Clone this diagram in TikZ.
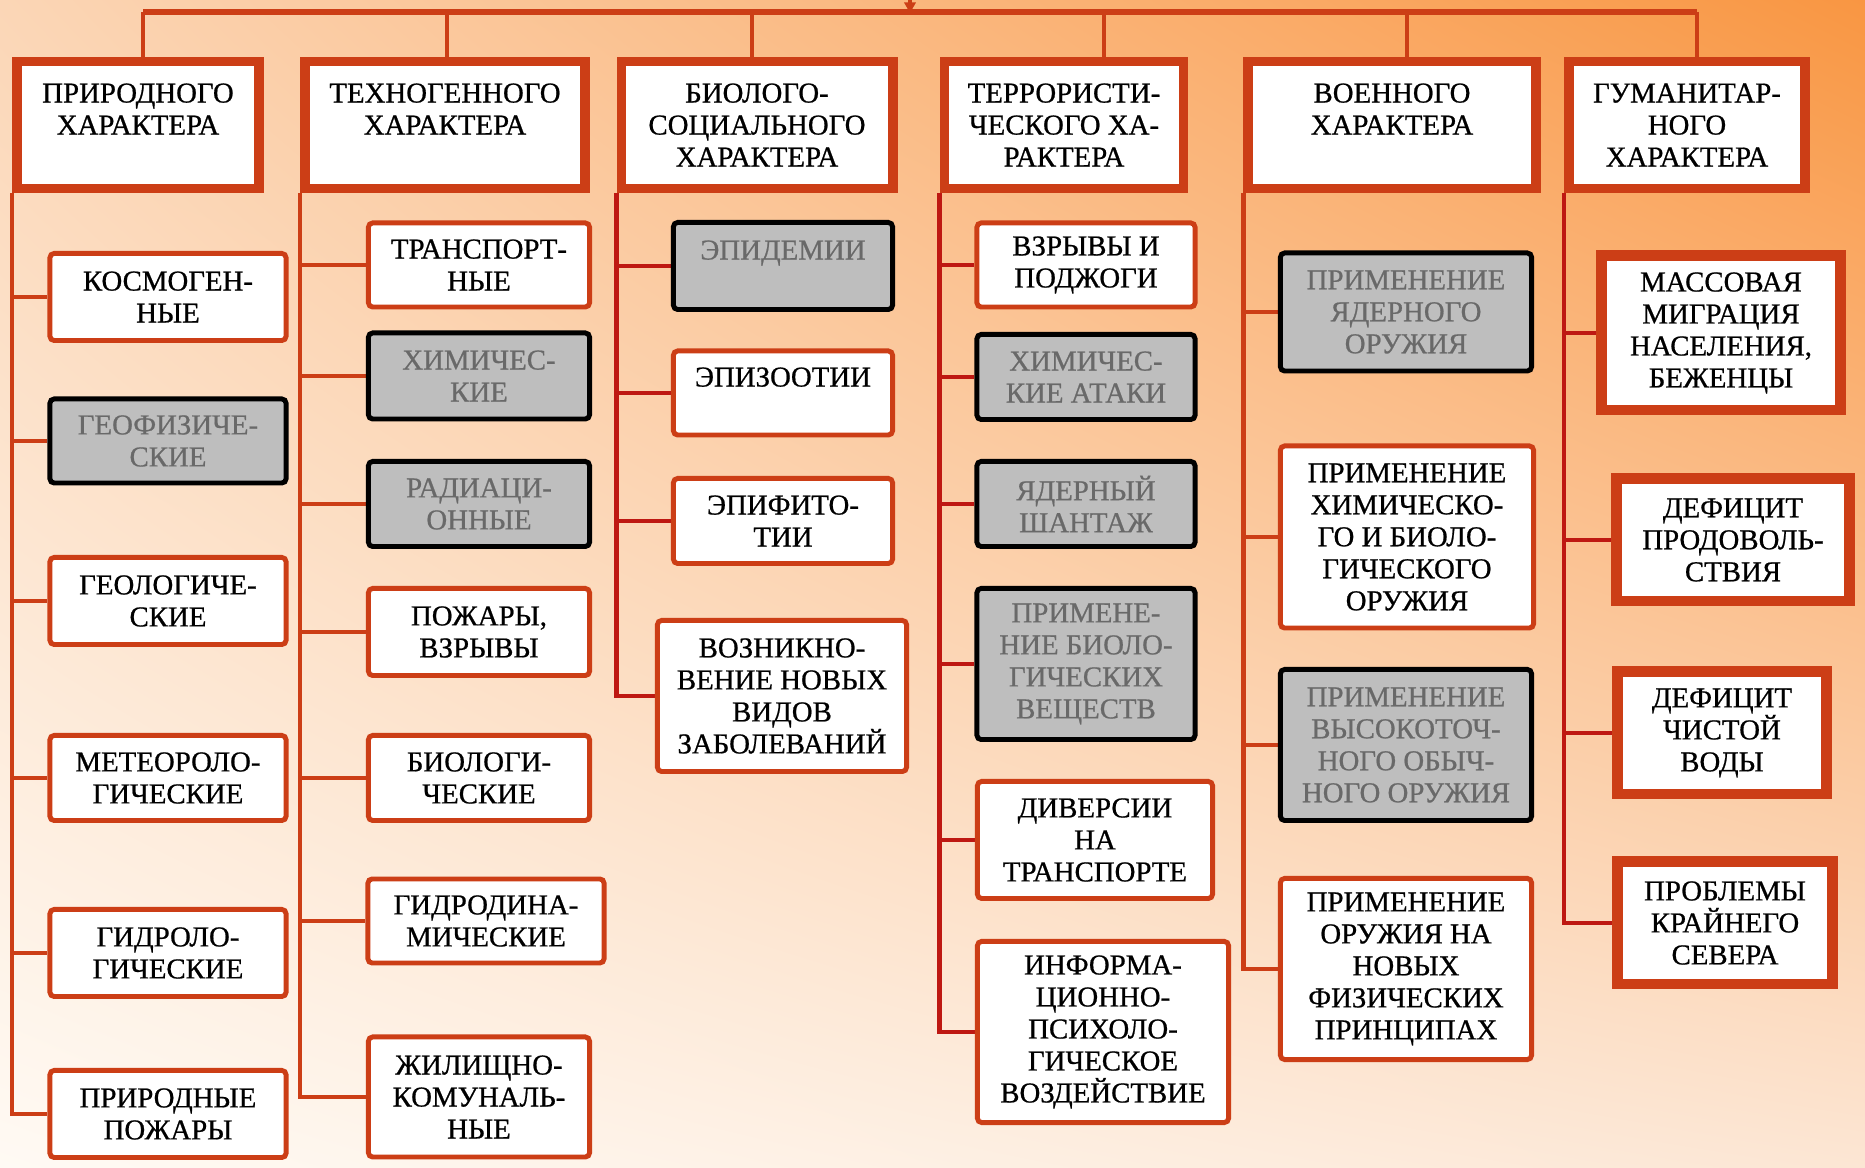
\documentclass[tikz,border=0pt]{standalone}
\usepackage{fontspec}
\setmainfont{Liberation Serif}[FakeBold=0.7]
\usetikzlibrary{arrows.meta,backgrounds,shadings}
\definecolor{brick}{RGB}{204,62,22}
\definecolor{crim}{RGB}{190,24,18}
\definecolor{boxgray}{RGB}{190,190,190}
\definecolor{txtgray}{RGB}{105,105,105}
\definecolor{bgul}{RGB}{251,214,182}
\definecolor{bgur}{RGB}{249,150,66}
\definecolor{bgll}{RGB}{255,250,244}
\definecolor{bglr}{RGB}{252,230,212}
\tikzset{
  sz/.style 2 args={minimum width=#1cm, minimum height=#2cm},
  headbox/.style={draw=brick, line width=2.8pt, fill=white, align=center, inner sep=0pt,
    append after command={\pgfextra{\draw[white!80!brick, line width=0.4pt]
      ([shift={(0.75pt,-0.75pt)}]\tikzlastnode.north west) rectangle
      ([shift={(-0.75pt,0.75pt)}]\tikzlastnode.south east);}}},
  leaf/.style={draw=brick, line width=1.4pt, rounded corners=1.2pt, fill=white,
    align=center, inner sep=0pt},
  grayleaf/.style={leaf, draw=black, fill=boxgray, text=txtgray},
  needbox/.style={headbox, line width=3.1pt},
  wire/.style={draw=brick, line width=1.4pt},
  wirec/.style={wire, draw=crim}
}
\begin{document}
\begin{tikzpicture}[x=0.01cm, y=-0.01cm, font=\fontsize{8.2}{9.1}\selectfont]
  \useasboundingbox (0,0) rectangle (1865,1168);

  % headers
  \node[headbox, sz={2.42}{1.27}] (h1) at (138,125) {ПРИРОДНОГО\\ХАРАКТЕРА\\~};
  \node[headbox, sz={2.80}{1.27}] (h2) at (445,125) {ТЕХНОГЕННОГО\\ХАРАКТЕРА\\~};
  \node[headbox, sz={2.71}{1.27}] (h3) at (757,125) {БИОЛОГО-\\СОЦИАЛЬНОГО\\ХАРАКТЕРА};
  \node[headbox, sz={2.39}{1.27}] (h4) at (1064,125) {ТЕРРОРИСТИ-\\ЧЕСКОГО ХА-\\РАКТЕРА};
  \node[headbox, sz={2.87}{1.27}] (h5) at (1392,125) {ВОЕННОГО\\ХАРАКТЕРА\\~};
  \node[headbox, sz={2.36}{1.27}] (h6) at (1687,125) {ГУМАНИТАР-\\НОГО\\ХАРАКТЕРА};

  % natural
  \node[leaf, sz={2.36}{0.87}] (c11) at (168,297) {КОСМОГЕН-\\НЫЕ};
  \node[grayleaf, sz={2.36}{0.84}] (c12) at (168,441) {ГЕОФИЗИЧЕ-\\СКИЕ};
  \node[leaf, sz={2.36}{0.87}] (c13) at (168,601) {ГЕОЛОГИЧЕ-\\СКИЕ};
  \node[leaf, sz={2.36}{0.85}] (c14) at (168,778) {МЕТЕОРОЛО-\\ГИЧЕСКИЕ};
  \node[leaf, sz={2.36}{0.87}] (c15) at (168,953) {ГИДРОЛО-\\ГИЧЕСКИЕ};
  \node[leaf, sz={2.36}{0.87}] (c16) at (168,1114) {ПРИРОДНЫЕ\\ПОЖАРЫ};

  % technogenic
  \node[leaf, sz={2.21}{0.84}] (c21) at (479,265) {ТРАНСПОРТ-\\НЫЕ};
  \node[grayleaf, sz={2.21}{0.86}] (c22) at (479,376) {ХИМИЧЕС-\\КИЕ};
  \node[grayleaf, sz={2.21}{0.85}] (c23) at (479,504) {РАДИАЦИ-\\ОННЫЕ};
  \node[leaf, sz={2.21}{0.87}] (c24) at (479,632) {ПОЖАРЫ,\\ВЗРЫВЫ};
  \node[leaf, sz={2.21}{0.85}] (c25) at (479,778) {БИОЛОГИ-\\ЧЕСКИЕ};
  \node[leaf, sz={2.36}{0.84}] (c26) at (486,921) {ГИДРОДИНА-\\МИЧЕСКИЕ};
  \node[leaf, sz={2.21}{1.20}] (c27) at (479,1097) {ЖИЛИЩНО-\\КОМУНАЛЬ-\\НЫЕ};

  % bio-social
  \node[grayleaf, sz={2.19}{0.87}] (c31) at (783,266) {ЭПИДЕМИИ\\~};
  \node[leaf, sz={2.19}{0.84}] (c32) at (783,393) {ЭПИЗООТИИ\\~};
  \node[leaf, sz={2.19}{0.85}] (c33) at (783,521) {ЭПИФИТО-\\ТИИ};
  \node[leaf, sz={2.49}{1.51}] (c34) at (782,696) {ВОЗНИКНО-\\ВЕНИЕ НОВЫХ\\ВИДОВ\\ЗАБОЛЕВАНИЙ};

  % terrorist
  \node[leaf, sz={2.18}{0.84}] (c41) at (1086,265) {ВЗРЫВЫ И\\ПОДЖОГИ};
  \node[grayleaf, sz={2.18}{0.85}] (c42) at (1086,377) {ХИМИЧЕС-\\КИЕ АТАКИ};
  \node[grayleaf, sz={2.18}{0.85}] (c43) at (1086,504) {ЯДЕРНЫЙ\\ШАНТАЖ};
  \node[grayleaf, sz={2.18}{1.51}] (c44) at (1086,664) {ПРИМЕНЕ-\\НИЕ БИОЛО-\\ГИЧЕСКИХ\\ВЕЩЕСТВ};
  \node[leaf, sz={2.35}{1.17}] (c45) at (1095,840) {ДИВЕРСИИ\\НА\\ТРАНСПОРТЕ};
  \node[leaf, sz={2.51}{1.81}] (c46) at (1103,1032) {ИНФОРМА-\\ЦИОННО-\\ПСИХОЛО-\\ГИЧЕСКОЕ\\ВОЗДЕЙСТВИЕ};

  % military
  \node[grayleaf, sz={2.51}{1.18}] (c51) at (1406,312) {ПРИМЕНЕНИЕ\\ЯДЕРНОГО\\ОРУЖИЯ};
  \node[leaf, sz={2.53}{1.82}] (c52) at (1407,537) {ПРИМЕНЕНИЕ\\ХИМИЧЕСКО-\\ГО И БИОЛО-\\ГИЧЕСКОГО\\ОРУЖИЯ};
  \node[grayleaf, sz={2.51}{1.51}] (c53) at (1406,745) {ПРИМЕНЕНИЕ\\ВЫСОКОТОЧ-\\НОГО ОБЫЧ-\\НОГО ОРУЖИЯ};
  \node[leaf, sz={2.51}{1.81}] (c54) at (1406,969) {ПРИМЕНЕНИЕ\\ОРУЖИЯ НА\\НОВЫХ\\ФИЗИЧЕСКИХ\\ПРИНЦИПАХ};

  % humanitarian
  \node[needbox, sz={2.38}{1.54}] (c61) at (1721,333) {МАССОВАЯ\\МИГРАЦИЯ\\НАСЕЛЕНИЯ,\\БЕЖЕНЦЫ};
  \node[needbox, sz={2.33}{1.22}] (c62) at (1733,540) {ДЕФИЦИТ\\ПРОДОВОЛЬ-\\СТВИЯ};
  \node[needbox, sz={2.09}{1.22}] (c63) at (1722,733) {ДЕФИЦИТ\\ЧИСТОЙ\\ВОДЫ};
  \node[needbox, sz={2.15}{1.22}] (c64) at (1725,923) {ПРОБЛЕМЫ\\КРАЙНЕГО\\СЕВЕРА};

  \begin{scope}[on background layer]
    \shade[upper left=bgul, upper right=bgur, lower left=bgll, lower right=bglr]
      (0,0) rectangle (1865,1168);
    % top bar
    \coordinate (b1) at (143,12);
    \coordinate (b2) at (447,12);
    \coordinate (b3) at (752,12);
    \coordinate (b4) at (1104,12);
    \coordinate (b5) at (1407,12);
    \coordinate (b6) at (1697,12);
    \coordinate (src) at (910,-4);
    \coordinate (hit) at (910,13);
    \draw[wire, line width=1.7pt] (b1) -- (b6);
    \draw[wire, -{Triangle[width=3.2pt,length=3pt]}] (src) -- (hit);
    \foreach \i in {1,...,6}
      \draw[wire] (b\i) -- (b\i |- h\i.north);
    % spines
    \foreach \n in {c11,c12,c13,c14,c15}
      \draw[wire] (h1.south west |- \n.west) -- (\n.west);
    \draw[wire] (h1.south west) |- (c16.west);
    \foreach \n in {c21,c22,c23,c24,c25,c26}
      \draw[wire] (h2.south west |- \n.west) -- (\n.west);
    \draw[wire] (h2.south west) |- (c27.west);
    \foreach \n in {c31,c32,c33}
      \draw[wirec] (h3.south west |- \n.west) -- (\n.west);
    \draw[wirec] (h3.south west) |- (c34.west);
    \foreach \n in {c41,c42,c43,c44,c45}
      \draw[wirec] (h4.south west |- \n.west) -- (\n.west);
    \draw[wirec] (h4.south west) |- (c46.west);
    \foreach \n in {c51,c52,c53}
      \draw[wire] (h5.south west |- \n.west) -- (\n.west);
    \draw[wire] (h5.south west) |- (c54.west);
    \foreach \n in {c61,c62,c63}
      \draw[wirec] (h6.south west |- \n.west) -- (\n.west);
    \draw[wirec] (h6.south west) |- (c64.west);
  \end{scope}
\end{tikzpicture}
\end{document}
